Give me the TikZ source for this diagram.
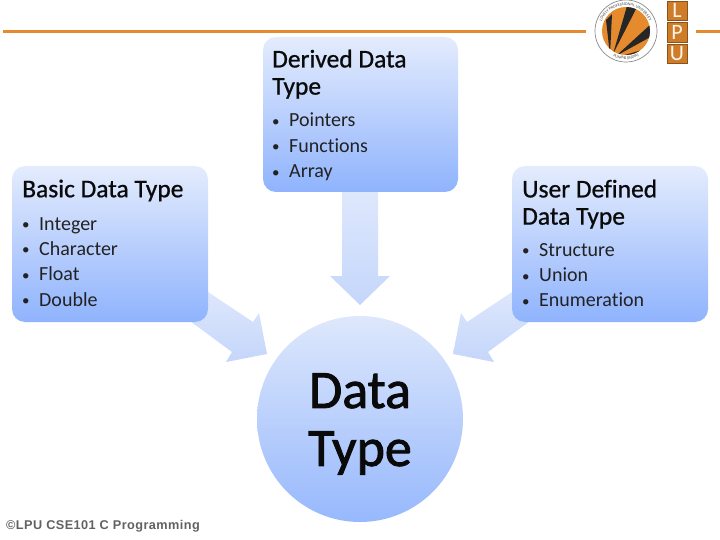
\documentclass[tikz,border=0pt]{standalone}
\usepackage{fontspec}
\setmainfont[Ligatures=NoCommon]{Carlito}
\newfontfamily\footfont[LetterSpace=3.5]{Liberation Sans}
\newfontfamily\headfont[FakeBold=0.8,Ligatures=NoCommon]{Carlito}
\newfontfamily\bigfont[FakeBold=1.6]{Carlito}
\usetikzlibrary{decorations.text}
\definecolor{lpuorange}{HTML}{E68A2E}
\definecolor{boxtop}{HTML}{E4ECFD}
\definecolor{boxbot}{HTML}{8FB3FD}
\definecolor{arrtop}{HTML}{DEE8FC}
\definecolor{arrbot}{HTML}{C4D6FB}
\definecolor{txt}{HTML}{0A0A0A}
\newcommand{\itm}[1]{\makebox[17pt][l]{\raisebox{.5pt}{\fontsize{15}{15}\selectfont•}}#1}
\tikzset{
  gradbox/.style={rectangle,rounded corners=13pt,top color=boxtop,bottom color=boxbot,draw=none,inner sep=0pt},
  blockarrow/.style={top color=arrtop,bottom color=arrbot,draw=none},
  heading/.style={anchor=north west,align=left,inner sep=0pt,font=\headfont\fontsize{25.5}{27.2}\selectfont,text=txt},
  listing/.style={anchor=north west,align=left,inner sep=0pt,font=\fontsize{20}{25.35}\selectfont,text=txt!90!white},
  lpusq/.style={rectangle,fill=lpuorange!90!black,draw=lpuorange!60!black,line width=.4pt,minimum width=20pt,minimum height=19.5pt,inner sep=0pt,text=white!90!lpuorange,font=\fontsize{22}{22}\selectfont},
  logotext/.style={decorate,decoration={text along path,text align=center,text={|\fontsize{4.2}{5}\selectfont\color{black!70}|#1}}},
}
\begin{document}
\begin{tikzpicture}[x=1pt,y=-1pt]
\useasboundingbox (0,0) rectangle (720,540);
% header rule
\coordinate (ruleA) at (3,32); \coordinate (ruleB) at (586,32);
\coordinate (ruleC) at (696,32); \coordinate (ruleD) at (720,32);
\draw[lpuorange,line width=3pt] (ruleA) -- (ruleB) (ruleC) -- (ruleD);
% logo
\node[circle,draw=black!45,line width=.7pt,fill=white,minimum size=62pt,inner sep=0pt] (logoring) at (626,31) {};
\node[circle,fill=lpuorange,minimum size=48pt,inner sep=0pt] (logodisc) at (626,31) {};
\begin{scope}
\clip (626,31) circle (24);
\fill[black!85] (610,55) -- (606,20) -- (612,14) -- cycle;
\fill[black!85] (613,54) -- (627,6) -- (636,9) -- cycle;
\fill[black!85] (616,56) -- (651,24) -- (654,35) -- cycle;
\fill[black!85] (618,57) -- (652,47) -- (646,56) -- cycle;
\end{scope}
\path[logotext={LOVELY PROFESSIONAL UNIVERSITY}] (602,41) arc[start angle=157,end angle=383,radius=25.5];
\path[logotext={PUNJAB (INDIA)}] (606,51) arc[start angle=135,end angle=45,radius=28.3];
\node[lpusq] (sqL) at (677,10.5) {L};
\node[lpusq] (sqP) at (677,32) {P};
\node[lpusq] (sqU) at (677,53.5) {U};
% block arrows
\shade[blockarrow] (342,192) -- (378,192) -- (378,276) -- (390,276) -- (360,305) -- (330,276) -- (342,276) -- cycle;
\shade[blockarrow] (205,290) -- (253,322) -- (259,313) -- (267,354) -- (226,362) -- (232,352) -- (190,321) -- cycle;
\shade[blockarrow] (515,290) -- (467,322) -- (461,313) -- (453,354) -- (494,362) -- (488,352) -- (530,321) -- cycle;
% boxes
\node[gradbox,minimum width=196pt,minimum height=156pt] (basic) at (110,244) {};
\node[gradbox,minimum width=195pt,minimum height=155pt] (derived) at (360.5,114.5) {};
\node[gradbox,minimum width=196pt,minimum height=156pt] (user) at (610,244) {};
\node[circle,minimum size=206pt,inner sep=0pt,top color=arrtop,bottom color=boxbot!85!arrbot] (dtype) at (360,419) {};
% texts
\node[heading] (h1) at (22,179.5) {Basic Data Type};
\node[listing] (l1) at (22,217) {\itm{Integer}\\\itm{Character}\\\itm{Float}\\\itm{Double}};
\node[heading] (h2) at (272,49.5) {Derived Data\\Type};
\node[listing] (l2) at (272,113) {\itm{Pointers}\\\itm{Functions}\\\itm{Array}};
\node[heading] (h3) at (522,179.5) {User Defined\\Data Type};
\node[listing] (l3) at (522,243) {\itm{Structure}\\\itm{Union}\\\itm{Enumeration}};
\node[align=center,inner sep=0pt,font=\bigfont\fontsize{54}{58}\selectfont,text=txt] (dlabel) at (360,424) {Data\\Type};
\node[anchor=west,inner sep=0pt,font=\footfont\bfseries\fontsize{12.7}{14}\selectfont,text=black!62] (foot) at (6,526.5) {©LPU CSE101 C Programming};
\end{tikzpicture}
\end{document}
